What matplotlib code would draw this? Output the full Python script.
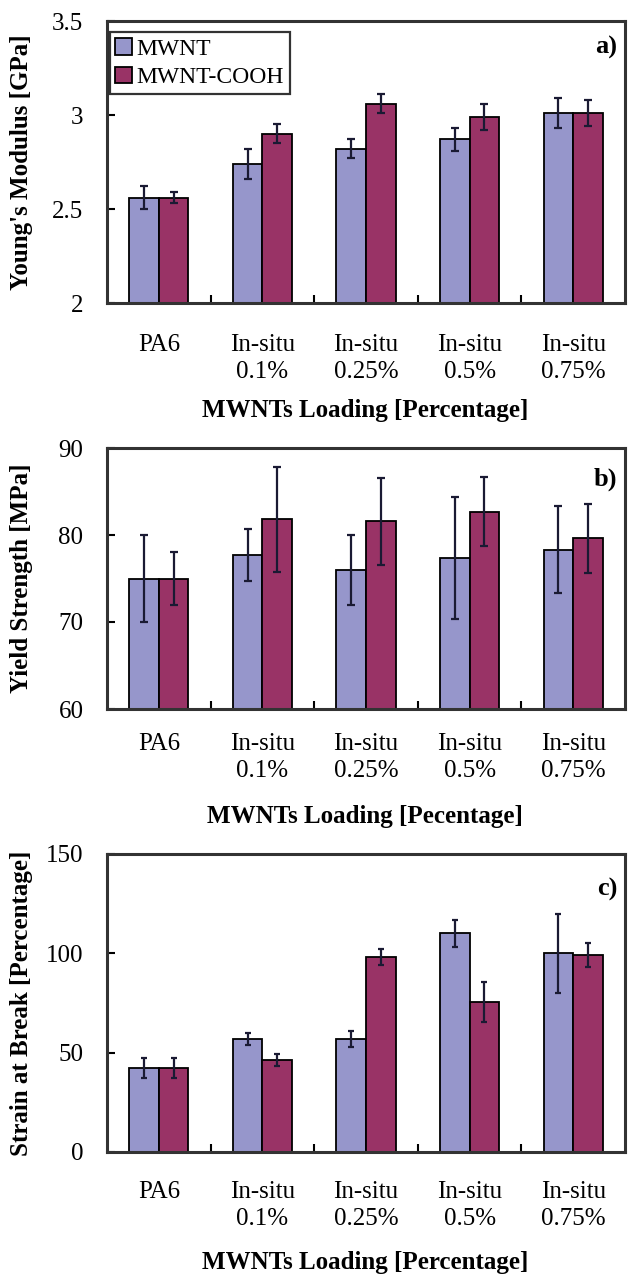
import numpy as np
import matplotlib
matplotlib.use('Agg')
import matplotlib.pyplot as plt

plt.rcParams['font.family'] = ['Liberation Serif', 'DejaVu Serif']

# data
groups = ['PA6', 'In-situ\n0.1%', 'In-situ\n0.25%', 'In-situ\n0.5%', 'In-situ\n0.75%']

modulus_mwnt = [2.56, 2.74, 2.82, 2.87, 3.01]
modulus_mwnt_err = [0.06, 0.08, 0.05, 0.06, 0.08]
modulus_cooh = [2.56, 2.90, 3.06, 2.99, 3.01]
modulus_cooh_err = [0.03, 0.05, 0.05, 0.07, 0.07]

yield_mwnt = [75.0, 77.7, 76.0, 77.4, 78.3]
yield_mwnt_err = [5.0, 3.0, 4.0, 7.0, 5.0]
yield_cooh = [75.0, 81.8, 81.6, 82.7, 79.6]
yield_cooh_err = [3.0, 6.0, 5.0, 4.0, 4.0]

strain_mwnt = [42.5, 57.0, 57.0, 110.0, 100.0]
strain_mwnt_err = [5.0, 3.0, 4.0, 7.0, 20.0]
strain_cooh = [42.5, 46.5, 98.0, 75.5, 99.0]
strain_cooh_err = [5.0, 3.0, 4.0, 10.0, 6.0]

c_mwnt = '#9696cb'
c_cooh = '#993366'

W, H = 632, 1279
fig = plt.figure(figsize=(W / 100, H / 100), dpi=100)

left, right = 107 / W, 625 / W


def make_ax(top_px, bot_px):
    return fig.add_axes([left, 1 - bot_px / H, right - left, (bot_px - top_px) / H])


def draw_panel(ax, m, me, c, ce, ylim, yticks, yticklabels, ylabel, tag, tag_y, capsize, pad):
    x = np.arange(len(groups))
    bw = 0.285
    ax.bar(x - bw / 2, m, bw, color=c_mwnt, edgecolor='black', linewidth=1.3, label='MWNT', zorder=2)
    ax.bar(x + bw / 2, c, bw, color=c_cooh, edgecolor='black', linewidth=1.3, label='MWNT-COOH', zorder=2)
    ax.errorbar(x - bw / 2, m, yerr=me, fmt='none', ecolor='#1a1a33', elinewidth=1.6,
                capsize=capsize, capthick=1.6, zorder=3)
    ax.errorbar(x + bw / 2, c, yerr=ce, fmt='none', ecolor='#1a1a33', elinewidth=1.6,
                capsize=capsize, capthick=1.6, zorder=3)
    ax.set_xlim(-0.5, len(groups) - 0.5)
    ax.set_ylim(*ylim)
    ax.set_yticks(yticks)
    ax.set_yticklabels(yticklabels, fontsize=18)
    ax.set_xticks(x)
    ax.set_xticklabels(groups, fontsize=18, linespacing=1.3)
    ax.set_xticks(np.arange(0.5, len(groups) - 0.5, 1.0), minor=True)
    ax.tick_params(axis='x', which='major', length=0, pad=pad)
    ax.tick_params(axis='x', which='minor', direction='in', length=6, width=1.5)
    ax.tick_params(axis='y', direction='in', length=6, width=1.5, pad=17)
    for s in ax.spines.values():
        s.set_linewidth(2.2)
        s.set_color('#333333')
    ax.text(0.985, tag_y, tag, transform=ax.transAxes, ha='right', va='center',
            fontsize=19, fontweight='bold')
    pos = ax.get_position()
    fig.text(22 / W, (pos.y0 + pos.y1) / 2, ylabel, rotation=90, ha='center', va='center',
             fontsize=18, fontweight='bold')


ax_a = make_ax(21, 303)
draw_panel(ax_a, modulus_mwnt, modulus_mwnt_err, modulus_cooh, modulus_cooh_err,
           (2, 3.5), [2, 2.5, 3, 3.5], ['2', '2.5', '3', '3.5'],
           "Young's Modulus [GPa]", 'a)', 0.905, 3, 22)
leg = ax_a.legend(loc='upper left', bbox_to_anchor=(0.005, 0.96), fontsize=17, frameon=True,
                  fancybox=False, edgecolor='black', handlelength=0.7, handleheight=0.7,
                  handletextpad=0.2, borderpad=0.25, labelspacing=0.3, borderaxespad=0)
leg.get_frame().set_linewidth(1.6)

ax_b = make_ax(448, 709)
draw_panel(ax_b, yield_mwnt, yield_mwnt_err, yield_cooh, yield_cooh_err,
           (60, 90), [60, 70, 80, 90], ['60', '70', '80', '90'],
           'Yield Strength [MPa]', 'b)', 0.88, 3, 17)

ax_c = make_ax(854, 1152)
draw_panel(ax_c, strain_mwnt, strain_mwnt_err, strain_cooh, strain_cooh_err,
           (0, 150), [0, 50, 100, 150], ['0', '50', '100', '150'],
           'Strain at Break [Percentage]', 'c)', 0.88, 2, 21)

fig.text(365 / W, 1 - 410 / H, 'MWNTs Loading [Percentage]', ha='center', va='center',
         fontsize=18, fontweight='bold')
fig.text(365 / W, 1 - 817 / H, 'MWNTs Loading [Pecentage]', ha='center', va='center',
         fontsize=18, fontweight='bold')
fig.text(365 / W, 1 - 1263 / H, 'MWNTs Loading [Percentage]', ha='center', va='center',
         fontsize=18, fontweight='bold')

fig.savefig('out.png', dpi=100)
